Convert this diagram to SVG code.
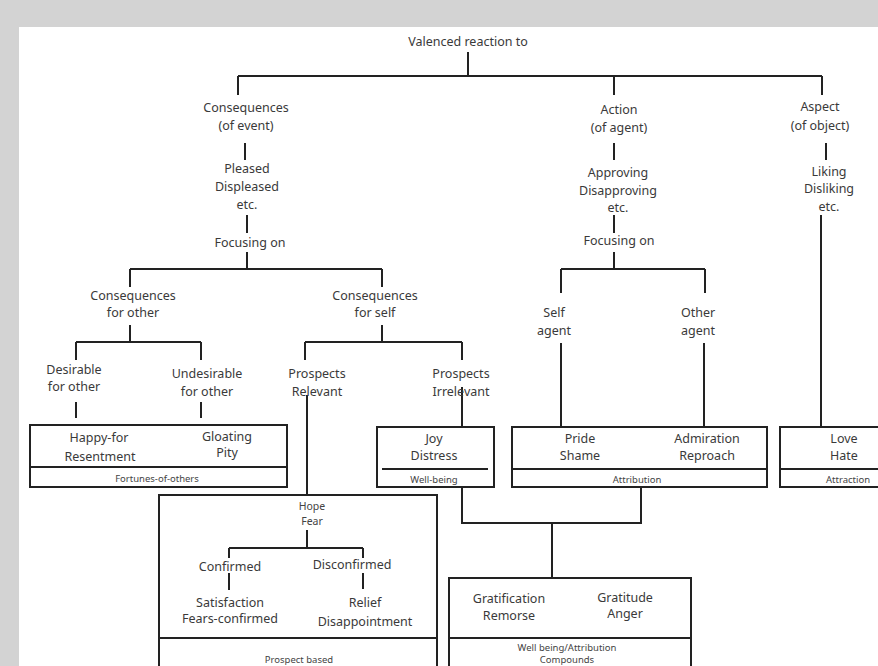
<svg xmlns="http://www.w3.org/2000/svg" width="878" height="666" viewBox="0 0 878 666">
<style>
text{font-family:"Noto Sans","Open Sans",sans-serif;font-size:12.5px;fill:#3a3a3a;text-anchor:middle}
text.s{font-size:9.5px;fill:#444}
.ln{stroke:#222;stroke-width:2;fill:none}
.bx{stroke:#222;stroke-width:2;fill:#fff}
</style>
<rect x="0" y="0" width="878" height="666" fill="#d3d3d3"/>
<rect x="19" y="27" width="870" height="650" fill="#fff"/>
<g id="connectors">
<path class="ln" d="M468 52V76M238 76H822M238 76V95M614 76V95M822 76V95"/>
<path class="ln" d="M245 143V160M247 215V233M247 252V269M130 269H382M130 269V287M382 269V287"/>
<path class="ln" d="M130 325V342M76 342H201M76 342V360M201 342V360M76 402V418M201 402V418"/>
<path class="ln" d="M382 325V342M305 342H462M305 342V360M462 342V360"/>
<path class="ln" d="M307 395V495M462 387V427"/>
<path class="ln" d="M614 143V160M614 215V233M614 252V269M561 269H705M561 269V293M705 269V293M561 343V427M704 343V427"/>
<path class="ln" d="M826 143V160M821 215V427"/>
<path class="ln" d="M462 487V523H641V487M552 523V578"/>
</g>
<g id="n-root"><text x="468" y="46">Valenced reaction to</text></g>
<g id="n-consequences"><text x="246" y="112">Consequences</text><text x="246" y="130">(of event)</text></g>
<g id="n-pleased"><text x="247" y="173">Pleased</text><text x="247" y="191">Displeased</text><text x="247" y="209">etc.</text></g>
<g id="n-focus1"><text x="250" y="247">Focusing on</text></g>
<g id="n-action"><text x="619" y="114">Action</text><text x="619" y="132">(of agent)</text></g>
<g id="n-approving"><text x="618" y="177">Approving</text><text x="618" y="195">Disapproving</text><text x="618" y="212">etc.</text></g>
<g id="n-focus2"><text x="619" y="245">Focusing on</text></g>
<g id="n-aspect"><text x="820" y="111">Aspect</text><text x="820" y="130">(of object)</text></g>
<g id="n-liking"><text x="829" y="176">Liking</text><text x="829" y="193">Disliking</text><text x="829" y="211">etc.</text></g>
<g id="n-cons-other"><text x="133" y="300">Consequences</text><text x="133" y="317">for other</text></g>
<g id="n-cons-self"><text x="375" y="300">Consequences</text><text x="375" y="317">for self</text></g>
<g id="n-desirable"><text x="74" y="374">Desirable</text><text x="74" y="391">for other</text></g>
<g id="n-undesirable"><text x="207" y="378">Undesirable</text><text x="207" y="396">for other</text></g>
<g id="n-prospects-rel"><text x="317" y="378">Prospects</text><text x="317" y="396">Relevant</text></g>
<g id="n-prospects-irr"><text x="461" y="378">Prospects</text><text x="461" y="396">Irrelevant</text></g>
<g id="n-self-agent"><text x="554" y="317">Self</text><text x="554" y="335">agent</text></g>
<g id="n-other-agent"><text x="698" y="317">Other</text><text x="698" y="335">agent</text></g>
<g id="n-fortunes">
<rect class="bx" x="30" y="425" width="257" height="62"/>
<path class="ln" d="M30 467H287"/>
<text x="99" y="442">Happy-for</text><text x="100" y="461">Resentment</text>
<text x="227" y="441">Gloating</text><text x="227" y="457">Pity</text>
<text class="s" x="157" y="482">Fortunes-of-others</text>
</g>
<g id="n-wellbeing">
<rect class="bx" x="377" y="427" width="117" height="60"/>
<path class="ln" d="M382 469H488"/>
<text x="434" y="443">Joy</text><text x="434" y="460">Distress</text>
<text class="s" x="434" y="483">Well-being</text>
</g>
<g id="n-attribution">
<rect class="bx" x="512" y="427" width="255" height="60"/>
<path class="ln" d="M512 469H767"/>
<text x="580" y="443">Pride</text><text x="580" y="460">Shame</text>
<text x="707" y="443">Admiration</text><text x="707" y="460">Reproach</text>
<text class="s" x="637" y="483">Attribution</text>
</g>
<g id="n-attraction">
<rect class="bx" x="780" y="427" width="110" height="60"/>
<path class="ln" d="M780 469H890"/>
<text x="844" y="443">Love</text><text x="844" y="460">Hate</text>
<text class="s" x="848" y="483">Attraction</text>
</g>
<g id="n-prospect-based">
<rect class="bx" x="159" y="495" width="278" height="190"/>
<path class="ln" d="M159 638H437"/>
<text class="s" x="312" y="510" style="font-size:10.5px">Hope</text><text class="s" x="312" y="525" style="font-size:10.5px">Fear</text>
<path class="ln" d="M307 530V548M229 548H363M229 548V558M363 548V558M229 573V590M363 573V589"/>
<text x="230" y="571">Confirmed</text><text x="352" y="569">Disconfirmed</text>
<text x="230" y="607">Satisfaction</text><text x="230" y="623">Fears-confirmed</text>
<text x="365" y="607">Relief</text><text x="365" y="626">Disappointment</text>
<text class="s" x="299" y="663">Prospect based</text>
</g>
<g id="n-compounds">
<rect class="bx" x="449" y="578" width="242" height="110"/>
<path class="ln" d="M449 638H691"/>
<text x="509" y="603">Gratification</text><text x="509" y="620">Remorse</text>
<text x="625" y="602">Gratitude</text><text x="625" y="618">Anger</text>
<text class="s" x="567" y="651">Well being/Attribution</text>
<text class="s" x="567" y="663">Compounds</text>
</g>
</svg>
